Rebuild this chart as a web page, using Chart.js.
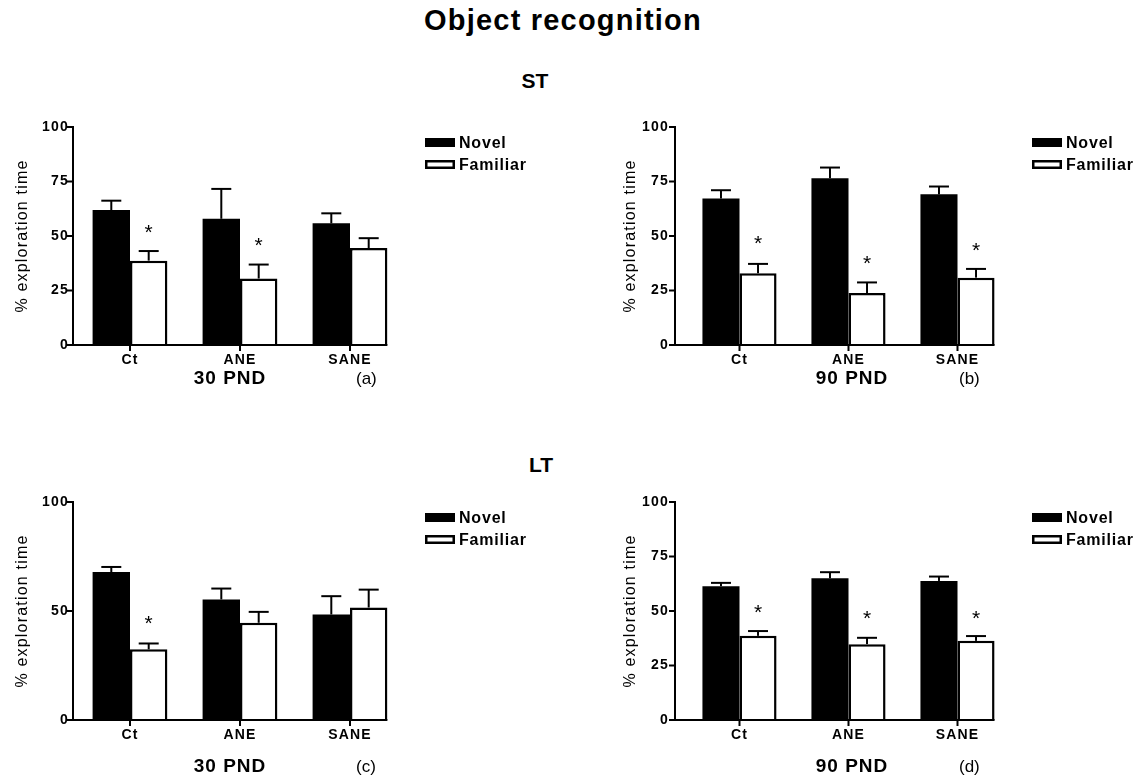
<!DOCTYPE html>
<html lang="en">
<head>
<meta charset="utf-8">
<title>Object recognition</title>
<script src="https://cdn.jsdelivr.net/npm/chart.js@4.4.0/dist/chart.umd.min.js"></script>
<style>
  body { margin: 0; background: #fff; font-family: "Liberation Sans", Arial, sans-serif; }
  #fig { position: relative; width: 1140px; height: 777px; overflow: hidden; background: #fff; }
  .txt { position: absolute; white-space: nowrap; color: #000; line-height: 1; }
  .ctr { width: 200px; text-align: center; }
  .age { font-size: 19px; font-weight: bold; letter-spacing: 1px; }
  .tag { font-size: 17px; }
  canvas { position: absolute; }
</style>
</head>
<body>
<div id="fig">
  <div class="txt" style="left:263px;top:6px;width:600px;text-align:center;font-size:29px;font-weight:bold;letter-spacing:1.2px">Object recognition</div>
  <div class="txt ctr" style="left:435px;top:70px;font-size:21px;font-weight:bold">ST</div>
  <div class="txt ctr" style="left:441px;top:454px;font-size:21px;font-weight:bold">LT</div>

  <canvas id="panelA" width="570" height="290" style="left:0;top:110px"></canvas>
  <canvas id="panelB" width="540" height="290" style="left:600px;top:110px"></canvas>
  <canvas id="panelC" width="570" height="287" style="left:0;top:490px"></canvas>
  <canvas id="panelD" width="540" height="287" style="left:600px;top:490px"></canvas>

  <div class="txt ctr age" style="left:130px;top:368px">30 PND</div>
  <div class="txt tag" style="left:356px;top:370px">(a)</div>
  <div class="txt ctr age" style="left:752px;top:368px">90 PND</div>
  <div class="txt tag" style="left:959px;top:370px">(b)</div>
  <div class="txt ctr age" style="left:130px;top:756px">30 PND</div>
  <div class="txt tag" style="left:356px;top:758px">(c)</div>
  <div class="txt ctr age" style="left:752px;top:756px">90 PND</div>
  <div class="txt tag" style="left:959px;top:758px">(d)</div>
</div>

<script>
const groups = ['Ct', 'ANE', 'SANE'];
const seriesNames = ['Novel', 'Familiar'];
const yTicksFull = [0, 25, 50, 75, 100];
const yTicksHalf = [0, 50, 100];

// ST, 30 PND (a)
const st30Novel = [61.9, 57.9, 55.8];
const st30NovelSem = [4.3, 13.7, 4.6];
const st30Familiar = [38.7, 30.5, 44.5];
const st30FamiliarSem = [4.4, 6.4, 4.5];
const st30Stars = [54, 48.2, null];

// ST, 90 PND (b)
const st90Novel = [67.2, 76.5, 69.1];
const st90NovelSem = [3.8, 4.9, 3.6];
const st90Familiar = [32.9, 23.8, 30.9];
const st90FamiliarSem = [4.3, 4.9, 4.0];
const st90Stars = [49, 39.8, 45.9];

// LT, 30 PND (c)
const lt30Novel = [67.9, 55.3, 48.4];
const lt30NovelSem = [2.3, 5.0, 8.4];
const lt30Familiar = [32.4, 44.6, 51.6];
const lt30FamiliarSem = [2.7, 5.0, 8.2];
const lt30Stars = [46.6, null, null];

// LT, 90 PND (d)
const lt90Novel = [61.4, 65.0, 63.8];
const lt90NovelSem = [1.5, 2.8, 2.0];
const lt90Familiar = [38.6, 34.8, 36.3];
const lt90FamiliarSem = [2.2, 2.9, 2.2];
const lt90Stars = [51.9, 48.9, 49.2];

const FONT = '"Liberation Sans", Arial, sans-serif';

function line(ctx, x1, y1, x2, y2) {
  ctx.beginPath();
  ctx.moveTo(x1, y1);
  ctx.lineTo(x2, y2);
  ctx.stroke();
}

// prism-like text spacing
const spacing = {
  id: 'spacing',
  beforeLayout(chart) { chart.ctx.letterSpacing = '1.2px'; },
  beforeDraw(chart) { chart.ctx.letterSpacing = '1.2px'; }
};

// axes, error bars and asterisks
const prismAxes = {
  id: 'prismAxes',
  afterDatasetsDraw(chart, args, opts) {
    const {ctx, chartArea: a, scales: {x, y}} = chart;
    const ax = a.left - opts.gap;
    ctx.save();
    ctx.strokeStyle = '#000';
    ctx.lineWidth = 2;

    chart.data.datasets.forEach((ds, i) => {
      chart.getDatasetMeta(i).data.forEach((bar, j) => {
        const top = y.getPixelForValue(ds.data[j] + ds.sem[j]);
        line(ctx, bar.x, bar.y, bar.x, top);
        line(ctx, bar.x - 10, top, bar.x + 10, top);
      });
    });

    const lastMeta = chart.getDatasetMeta(chart.data.datasets.length - 1).data;
    const lastBar = lastMeta[lastMeta.length - 1];
    const endX = lastBar.x + lastBar.width / 2;
    line(ctx, ax, a.top - 1, ax, a.bottom + 1);
    line(ctx, ax, a.bottom, endX, a.bottom);
    y.ticks.forEach(t => {
      const py = y.getPixelForValue(t.value);
      line(ctx, ax - 6, py, ax, py);
    });
    x.ticks.forEach((t, i) => {
      const px = x.getPixelForTick(i);
      line(ctx, px, a.bottom, px, a.bottom + 6);
    });

    ctx.fillStyle = '#000';
    ctx.font = '21px ' + FONT;
    ctx.textAlign = 'center';
    ctx.textBaseline = 'alphabetic';
    ctx.letterSpacing = '0px';
    chart.data.datasets.forEach((ds, i) => {
      if (!ds.stars) return;
      chart.getDatasetMeta(i).data.forEach((bar, j) => {
        if (ds.stars[j] == null) return;
        ctx.fillText('*', bar.x, y.getPixelForValue(ds.stars[j]) + 12);
      });
    });
    ctx.restore();
  }
};

// legend to the right of the plot
const sideLegend = {
  id: 'sideLegend',
  afterDraw(chart, args, opts) {
    const {ctx, chartArea: a} = chart;
    ctx.save();
    ctx.font = 'bold 16px ' + FONT;
    ctx.letterSpacing = '0.8px';
    ctx.textAlign = 'left';
    ctx.textBaseline = 'middle';
    chart.data.datasets.forEach((ds, i) => {
      const bx = a.right + opts.dx;
      const cy = a.top + opts.dy + i * opts.step;
      ctx.fillStyle = ds.backgroundColor;
      ctx.fillRect(bx, cy - 4.5, 30, 9);
      if (ds.borderWidth) {
        ctx.strokeStyle = ds.borderColor;
        ctx.lineWidth = 2.5;
        ctx.strokeRect(bx + 1.25, cy - 3.25, 27.5, 6.5);
      }
      ctx.fillStyle = '#000';
      ctx.fillText(ds.label, bx + 34, cy + 1);
    });
    ctx.restore();
  }
};

function makePanel(id, p) {
  new Chart(document.getElementById(id), {
    type: 'bar',
    data: {
      labels: groups,
      datasets: [
        {
          label: seriesNames[0], data: p.novel, sem: p.novelSem,
          backgroundColor: '#000', borderColor: '#000', borderWidth: 0
        },
        {
          label: seriesNames[1], data: p.familiar, sem: p.familiarSem, stars: p.stars,
          backgroundColor: '#fff', borderColor: '#000', borderWidth: 2.5
        }
      ]
    },
    options: {
      responsive: false,
      animation: false,
      events: [],
      categoryPercentage: 0.68,
      barPercentage: 1.0,
      layout: { padding: { top: p.top, right: p.right, left: 0, bottom: 0 } },
      plugins: {
        legend: { display: false },
        tooltip: { enabled: false },
        prismAxes: { gap: p.gap },
        sideLegend: { dx: 20, dy: 15.5, step: 22 }
      },
      scales: {
        x: {
          afterFit: s => { s.height = p.xHeight; },
          grid: { display: false, drawTicks: false },
          border: { display: false },
          ticks: { color: '#000', padding: 7, maxRotation: 0, autoSkip: false,
                   font: { family: FONT, size: 14, weight: 'bold' } }
        },
        y: {
          min: 0, max: 100,
          afterBuildTicks: s => { s.ticks = p.yTicks.map(v => ({ value: v })); },
          afterFit: s => { s.width = p.yWidth; s.paddingTop = 8; s.paddingBottom = 8; },
          grid: { display: false, drawTicks: false },
          border: { display: false },
          ticks: { color: '#000', padding: p.tickPad,
                   font: { family: FONT, size: 14, weight: 'bold' } },
          title: { display: true, text: '% exploration time', color: '#000',
                   font: { family: FONT, size: 16 }, padding: { top: p.titlePad, bottom: 0 } }
        }
      }
    },
    plugins: [spacing, prismAxes, sideLegend]
  });
}

makePanel('panelA', {
  novel: st30Novel, novelSem: st30NovelSem, familiar: st30Familiar, familiarSem: st30FamiliarSem,
  stars: st30Stars, yTicks: yTicksFull,
  top: 17, right: 165, xHeight: 55, yWidth: 75, gap: 2, tickPad: 6, titlePad: 13
});
makePanel('panelB', {
  novel: st90Novel, novelSem: st90NovelSem, familiar: st90Familiar, familiarSem: st90FamiliarSem,
  stars: st90Stars, yTicks: yTicksFull,
  top: 17, right: 128, xHeight: 55, yWidth: 85, gap: 10, tickPad: 16, titlePad: 21
});
makePanel('panelC', {
  novel: lt30Novel, novelSem: lt30NovelSem, familiar: lt30Familiar, familiarSem: lt30FamiliarSem,
  stars: lt30Stars, yTicks: yTicksHalf,
  top: 12, right: 165, xHeight: 57, yWidth: 75, gap: 2, tickPad: 6, titlePad: 13
});
makePanel('panelD', {
  novel: lt90Novel, novelSem: lt90NovelSem, familiar: lt90Familiar, familiarSem: lt90FamiliarSem,
  stars: lt90Stars, yTicks: yTicksFull,
  top: 12, right: 128, xHeight: 57, yWidth: 85, gap: 10, tickPad: 16, titlePad: 21
});
</script>
</body>
</html>
